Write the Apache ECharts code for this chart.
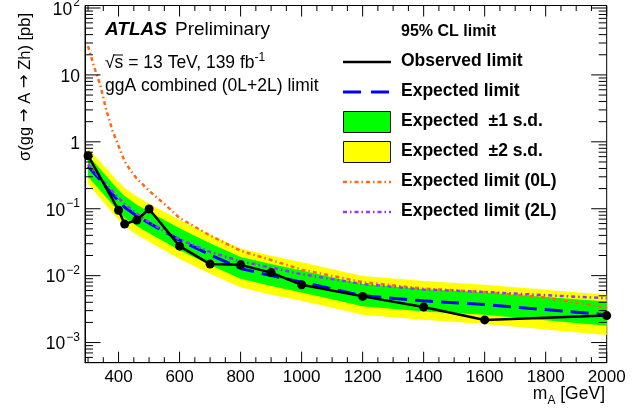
<!DOCTYPE html>
<html><head><meta charset="utf-8">
<script src="https://cdn.jsdelivr.net/npm/echarts@6/dist/echarts.min.js"></script>
<style>html,body{margin:0;padding:0;background:#fff}#c{width:644px;height:411px}</style>
</head><body><div id="c"></div>
<script>
// ---- data ----
const massPoints   = [300, 400, 420, 460, 500, 600, 700, 800, 900, 1000, 1200, 1400, 1600, 2000];
const observed     = [0.62, 0.095, 0.059, 0.068, 0.099, 0.0276, 0.0149, 0.0145, 0.0111, 0.0073, 0.0049, 0.0034, 0.00218, 0.00253];
const expected     = [0.43, 0.13, 0.105, 0.078, 0.061, 0.034, 0.0205, 0.0128, 0.0100, 0.0080, 0.0050, 0.0042, 0.0037, 0.0026];
const plus2        = [0.80, 0.25, 0.205, 0.152, 0.12, 0.068, 0.041, 0.0255, 0.0198, 0.0158, 0.0099, 0.0083, 0.0073, 0.0052];
const plus1        = [0.63, 0.19, 0.155, 0.115, 0.09, 0.051, 0.0305, 0.019, 0.0149, 0.0119, 0.0075, 0.0063, 0.0056, 0.0041];
const minus1       = [0.30, 0.091, 0.073, 0.055, 0.043, 0.024, 0.0144, 0.0090, 0.0070, 0.0056, 0.0035, 0.0029, 0.0026, 0.00178];
const minus2       = [0.235, 0.068, 0.055, 0.041, 0.032, 0.0177, 0.0107, 0.0067, 0.0052, 0.0042, 0.0026, 0.0022, 0.0019, 0.0013];

const mass0L       = [300, 320, 340, 360, 380, 400, 420, 440, 460, 500, 550, 600, 700, 800, 900, 1000, 1200, 1400, 1600, 1800, 2000];
const expected0L   = [27, 13.1, 7.1, 2.95, 1.47, 0.865, 0.51, 0.37, 0.282, 0.186, 0.118, 0.0728, 0.0398, 0.0235, 0.0171, 0.0123, 0.0080, 0.0064, 0.0057, 0.0047, 0.0033];
const mass2L       = [300, 400, 420, 460, 500, 600, 700, 800, 900, 1000, 1200, 1400, 1600, 1800, 2000];
const expected2L   = [0.46, 0.145, 0.118, 0.083, 0.063, 0.0348, 0.0226, 0.0164, 0.0132, 0.0105, 0.0075, 0.0062, 0.0057, 0.0051, 0.0046];

const xTickLabels  = [400, 600, 800, 1000, 1200, 1400, 1600, 1800, 2000];
const xMinorTicks  = [300, 350, 450, 500, 550, 650, 700, 750, 850, 900, 950, 1050, 1100, 1150, 1250, 1300, 1350, 1450, 1500, 1550, 1650, 1700, 1750, 1850, 1900, 1950];
const yMajorTicks  = [1e-3, 1e-2, 1e-1, 1, 10, 100];
const yMinorTicks  = [6e-4, 7e-4, 8e-4, 9e-4,
  2e-3, 3e-3, 4e-3, 5e-3, 6e-3, 7e-3, 8e-3, 9e-3,
  0.02, 0.03, 0.04, 0.05, 0.06, 0.07, 0.08, 0.09,
  0.2, 0.3, 0.4, 0.5, 0.6, 0.7, 0.8, 0.9,
  2, 3, 4, 5, 6, 7, 8, 9,
  20, 30, 40, 50, 60, 70, 80, 90];

// ---- chart ----
const F = '"Liberation Sans", Arial, Helvetica, sans-serif';
const chart = echarts.init(document.getElementById('c'), null, {renderer: 'canvas'});

const pairs = (xs, ys) => xs.map((x, i) => [x, ys[i]]);

function bandSeries(upper, lower, color, z) {
  return {
    type: 'custom', z: z, silent: true, animation: false,
    data: pairs(massPoints, expected),
    encode: {x: 0, y: 1},
    renderItem: function (params, api) {
      if (params.dataIndex !== 0) return null;
      const pts = [];
      for (let i = 0; i < massPoints.length; i++) pts.push(api.coord([massPoints[i], upper[i]]));
      for (let i = massPoints.length - 1; i >= 0; i--) pts.push(api.coord([massPoints[i], lower[i]]));
      return {type: 'polygon', shape: {points: pts}, style: {fill: color, stroke: null}};
    }
  };
}

const tickData = [];
xTickLabels.forEach(v => tickData.push([v, 1, 0]));
xMinorTicks.forEach(v => tickData.push([v, 1, 1]));
yMajorTicks.forEach(v => tickData.push([1000, v, 2]));
yMinorTicks.forEach(v => tickData.push([1000, v, 3]));

const tickSeries = {
  type: 'custom', z: 20, silent: true, animation: false,
  data: tickData, encode: {x: 0, y: 1},
  renderItem: function (params, api) {
    const kind = api.value(2);
    const cs = params.coordSys;
    const p = api.coord([api.value(0), api.value(1)]);
    const st = {stroke: '#000', lineWidth: 1};
    if (kind === 0 || kind === 1) {
      const L = kind === 0 ? 11 : 5.5;
      const b = cs.y + cs.height, t = cs.y;
      return {type: 'group', children: [
        {type: 'line', shape: {x1: p[0], y1: b, x2: p[0], y2: b - L}, style: st},
        {type: 'line', shape: {x1: p[0], y1: t, x2: p[0], y2: t + L}, style: st}
      ]};
    } else {
      const L = kind === 2 ? 15.5 : 8;
      const l = cs.x, r = cs.x + cs.width;
      return {type: 'group', children: [
        {type: 'line', shape: {x1: l, y1: p[1], x2: l + L, y2: p[1]}, style: st},
        {type: 'line', shape: {x1: r, y1: p[1], x2: r - L, y2: p[1]}, style: st}
      ]};
    }
  }
};

function yLabel(v) {
  const e = Math.round(Math.log10(v));
  if (Math.abs(v / Math.pow(10, e) - 1) > 1e-6) return '';
  if (e === 0) return '{b|1}';
  if (e === 1) return '{b|10}';
  return '{b|10}{s|' + (e < 0 ? '\u2212' : '') + Math.abs(e) + '}';
}

const legendX1 = 343, legendX2 = 391, legendTX = 401;
const legendFont = 'bold 17.5px ' + F;

const option = {
  animation: false,
  backgroundColor: '#fff',
  grid: {left: 85, top: 5.5, width: 521.7, height: 357.2, show: true, borderColor: '#000', borderWidth: 1,
         backgroundColor: 'transparent', containLabel: false, outerBoundsMode: 'none'},
  xAxis: {
    type: 'value', min: 290, max: 2000, splitNumber: 8,
    axisLine: {show: true, onZero: false, lineStyle: {color: '#000', width: 1}},
    axisTick: {show: false}, splitLine: {show: false}, minorTick: {show: false},
    axisLabel: {customValues: xTickLabels, color: '#000', fontSize: 17, fontFamily: F, margin: 6,
      formatter: v => (v % 200 === 0 && v >= 400) ? String(v) : ''}
  },
  yAxis: {
    type: 'log', logBase: 10, min: 5e-4, max: 109,
    axisLine: {show: true, lineStyle: {color: '#000', width: 1}},
    axisTick: {show: false}, splitLine: {show: false},
    axisLabel: {color: '#000', margin: 5, formatter: yLabel,
      rich: {
        b: {fontSize: 17.5, fontFamily: F, color: '#000', lineHeight: 22, verticalAlign: 'bottom'},
        s: {fontSize: 12, fontFamily: F, color: '#000', lineHeight: 22, verticalAlign: 'top', padding: [0, 0, 0, 1]}
      }}
  },
  series: [
    bandSeries(plus2, minus2, '#ffff00', 1),
    bandSeries(plus1, minus1, '#00ff00', 2),
    {type: 'line', z: 4, data: pairs(massPoints, expected), showSymbol: false, symbol: 'none', silent: true,
     lineStyle: {color: '#0000ff', width: 3, type: [18, 8]}},
    {type: 'line', z: 5, data: pairs(mass0L, expected0L), showSymbol: false, symbol: 'none', silent: true,
     lineStyle: {color: '#ff6a10', width: 2.5, type: [4, 3, 1.5, 3]}},
    {type: 'line', z: 6, data: pairs(mass2L, expected2L), showSymbol: false, symbol: 'none', silent: true,
     lineStyle: {color: '#9933ff', width: 2.5, type: [4, 3, 1.5, 3]}},
    {type: 'line', z: 7, data: pairs(massPoints, observed), symbol: 'circle', symbolSize: 9, showSymbol: true, silent: true,
     itemStyle: {color: '#000'}, lineStyle: {color: '#000', width: 2.5}},
    tickSeries
  ],
  graphic: {elements: [
    {type: 'text', z: 30, style: {text: 'ATLAS', x: 105, y: 30, font: 'italic bold 19px ' + F, fill: '#000', verticalAlign: 'middle'}},
    {type: 'text', z: 30, style: {text: 'Preliminary', x: 175, y: 30, font: '19px ' + F, fill: '#000', verticalAlign: 'middle'}},
    {type: 'text', z: 30, style: {text: '\u221As = 13 TeV, 139 fb{s|-1}', x: 105, y: 63, font: '17.5px ' + F, fill: '#000', verticalAlign: 'middle',
      rich: {s: {fontSize: 12, fontFamily: F, fill: '#000', verticalAlign: 'top', lineHeight: 22}}}},
    {type: 'line', z: 30, shape: {x1: 114, y1: 55, x2: 123, y2: 55}, style: {stroke: '#000', lineWidth: 1}},
    {type: 'text', z: 30, style: {text: 'ggA combined (0L+2L) limit', x: 105, y: 86, font: '17.5px ' + F, fill: '#000', verticalAlign: 'middle'}},

    {type: 'text', z: 30, style: {text: '95% CL limit', x: legendTX, y: 32, font: 'bold 16px ' + F, fill: '#000', verticalAlign: 'middle'}},
    {type: 'line', z: 30, shape: {x1: legendX1, y1: 62, x2: legendX2, y2: 62}, style: {stroke: '#000', lineWidth: 2.5}},
    {type: 'text', z: 30, style: {text: 'Observed limit', x: legendTX, y: 61.5, font: legendFont, fill: '#000', verticalAlign: 'middle'}},
    {type: 'line', z: 30, shape: {x1: legendX1, y1: 92, x2: legendX2, y2: 92}, style: {stroke: '#0000ff', lineWidth: 3, lineDash: [18, 10]}},
    {type: 'text', z: 30, style: {text: 'Expected limit', x: legendTX, y: 91.5, font: legendFont, fill: '#000', verticalAlign: 'middle'}},
    {type: 'rect', z: 30, shape: {x: 343.5, y: 111.5, width: 47, height: 21}, style: {fill: '#00ff00', stroke: '#111', lineWidth: 1}},
    {type: 'text', z: 30, style: {text: 'Expected  \u00B11 s.d.', x: legendTX, y: 121.5, font: legendFont, fill: '#000', verticalAlign: 'middle'}},
    {type: 'rect', z: 30, shape: {x: 343.5, y: 141.5, width: 47, height: 21}, style: {fill: '#ffff00', stroke: '#111', lineWidth: 1}},
    {type: 'text', z: 30, style: {text: 'Expected  \u00B12 s.d.', x: legendTX, y: 151.5, font: legendFont, fill: '#000', verticalAlign: 'middle'}},
    {type: 'line', z: 30, shape: {x1: legendX1, y1: 182, x2: legendX2, y2: 182}, style: {stroke: '#ff6a10', lineWidth: 2.5, lineDash: [4, 3, 1.5, 3]}},
    {type: 'text', z: 30, style: {text: 'Expected limit (0L)', x: legendTX, y: 181.5, font: legendFont, fill: '#000', verticalAlign: 'middle'}},
    {type: 'line', z: 30, shape: {x1: legendX1, y1: 212, x2: legendX2, y2: 212}, style: {stroke: '#9933ff', lineWidth: 2.5, lineDash: [4, 3, 1.5, 3]}},
    {type: 'text', z: 30, style: {text: 'Expected limit (2L)', x: legendTX, y: 211.5, font: legendFont, fill: '#000', verticalAlign: 'middle'}},

    {type: 'text', z: 30, rotation: Math.PI / 2, x: 25, y: 13,
     style: {text: '\u03C3(gg {a|\u2192} A {a|\u2192} Zh) [pb]', x: 0, y: 0, font: '16.5px ' + F, fill: '#000', align: 'right', verticalAlign: 'middle',
       rich: {a: {fontSize: 16.5, fontFamily: '"DejaVu Sans", sans-serif', fill: '#000'}}}},
    {type: 'text', z: 30, style: {text: 'm{sub|A} [GeV]', x: 605, y: 394, font: '17.5px ' + F, fill: '#000', align: 'right', verticalAlign: 'middle',
      rich: {sub: {fontSize: 12, fontFamily: F, fill: '#000', verticalAlign: 'bottom', lineHeight: 26}}}}
  ]}
};
chart.setOption(option);
</script>
</body></html>
